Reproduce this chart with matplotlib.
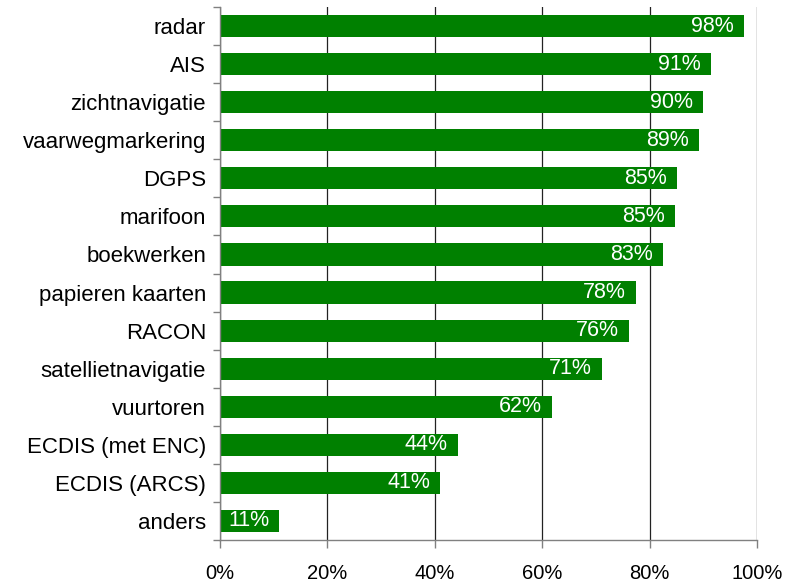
import numpy as np
import matplotlib.pyplot as plt

# Data (bovenaan = eerste)
categorieen = ['radar', 'AIS', 'zichtnavigatie', 'vaarwegmarkering', 'DGPS',
               'marifoon', 'boekwerken', 'papieren kaarten', 'RACON',
               'satellietnavigatie', 'vuurtoren', 'ECDIS (met ENC)',
               'ECDIS (ARCS)', 'anders']
waarden = [97.5, 91.4, 89.9, 89.2, 85.1, 84.7, 82.5, 77.5, 76.2, 71.1, 61.8, 44.3, 41.0, 11.0]
labels = ['98%', '91%', '90%', '89%', '85%', '85%', '83%', '78%', '76%',
          '71%', '62%', '44%', '41%', '11%']
xticks = [0, 20, 40, 60, 80, 100]
xticklabels = ['0%', '20%', '40%', '60%', '80%', '100%']

plt.rcParams['font.family'] = ['Liberation Sans', 'DejaVu Sans']

fig = plt.figure(figsize=(7.87, 5.85), dpi=100)
ax = fig.add_axes([220 / 787, 45 / 585, 537 / 787, 533 / 585])

n = len(categorieen)
y = np.arange(n)[::-1]

# Gridlijnen onder de balken
for t in xticks:
    ax.axvline(t, color='#222222', lw=0.9, zorder=1)

ax.barh(y, waarden, height=0.58, color='#008000', zorder=2)

for yi, w, lab in zip(y, waarden, labels):
    ax.annotate(lab, (w, yi), xytext=(-10, 0), textcoords='offset pixels',
                ha='right', va='center', color='white', fontsize=15.5, zorder=3)

ax.set_xlim(0, 100)
ax.set_ylim(-0.5, n - 0.5)
ax.set_xticks(xticks)
ax.set_xticklabels(xticklabels, fontsize=14.5)
ax.set_yticks(y)
ax.set_yticklabels(categorieen, fontsize=16)

# streepjes tussen de categorieen
ax.set_yticks(np.arange(-0.5, n, 1), minor=True)
ax.tick_params(axis='y', which='major', length=0, pad=10)
ax.tick_params(axis='y', which='minor', length=5, color='#808080', width=1)
ax.tick_params(axis='x', length=6, color='#808080', width=1, pad=11)

for s in ['top', 'right']:
    ax.spines[s].set_visible(False)
for s in ['left', 'bottom']:
    ax.spines[s].set_color('#808080')
    ax.spines[s].set_linewidth(1)

fig.savefig('out.png', dpi=100)
